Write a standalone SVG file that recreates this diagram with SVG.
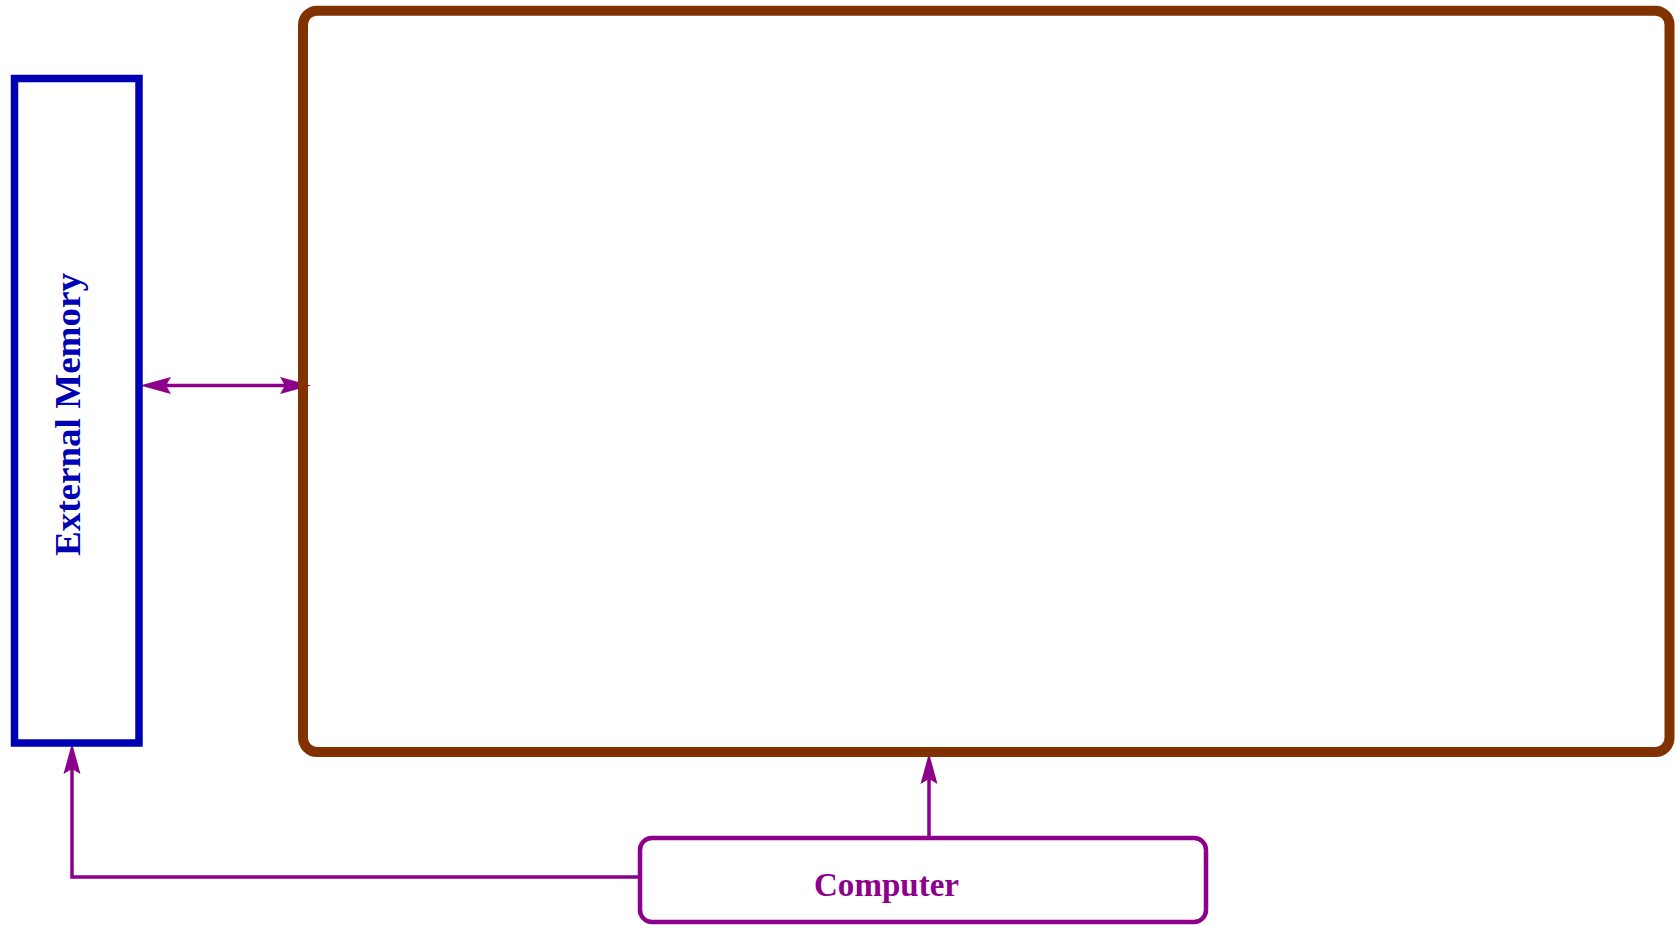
<svg xmlns="http://www.w3.org/2000/svg" width="1675" height="925" viewBox="0 0 1675 925">
  <style>
    .conn { fill: none; stroke: #8C008C; stroke-width: 3.5; }
    .label { font-family: "Liberation Serif", "Times New Roman", serif; font-weight: bold; }
  </style>
  <defs>
    <!-- concave arrowhead; tip sits 10 units past the path end -->
    <marker id="head" markerUnits="userSpaceOnUse" viewBox="-30 -10 50 20" refX="0" refY="0"
            markerWidth="50" markerHeight="20" orient="auto-start-reverse" overflow="visible">
      <path d="M10,0 L-21,-8.5 L-16,0 L-21,8.5 Z" fill="#8C008C"/>
    </marker>
  </defs>
  <rect width="1675" height="925" fill="#ffffff"/>

  <g id="connectors">
    <!-- external memory <-> processing block -->
    <line class="conn" x1="150" y1="385.5" x2="301" y2="385.5" marker-start="url(#head)" marker-end="url(#head)"/>
    <!-- computer -> processing block -->
    <line class="conn" x1="929" y1="838" x2="929" y2="763" marker-end="url(#head)"/>
    <!-- computer -> external memory -->
    <polyline class="conn" points="640,877 72,877 72,753" marker-end="url(#head)"/>
  </g>

  <g id="external-memory">
    <rect x="14.5" y="78.5" width="124.5" height="664.5" fill="none" stroke="#0000B4" stroke-width="7.5"/>
    <text class="label" transform="translate(80,414.5) rotate(-90)" text-anchor="middle" font-size="35"
          fill="#0000B4" textLength="283" lengthAdjust="spacingAndGlyphs">External Memory</text>
  </g>

  <g id="processing-block">
    <rect x="303" y="10.7" width="1366.5" height="741.3" rx="14" ry="14" fill="none" stroke="#803200" stroke-width="10"/>
  </g>

  <g id="computer">
    <rect x="640" y="838" width="566" height="84" rx="12" ry="12" fill="#ffffff" stroke="#8C008C" stroke-width="4.5"/>
    <text class="label" x="886.5" y="896" text-anchor="middle" font-size="34" fill="#8C008C"
          textLength="145" lengthAdjust="spacingAndGlyphs">Computer</text>
  </g>
</svg>
